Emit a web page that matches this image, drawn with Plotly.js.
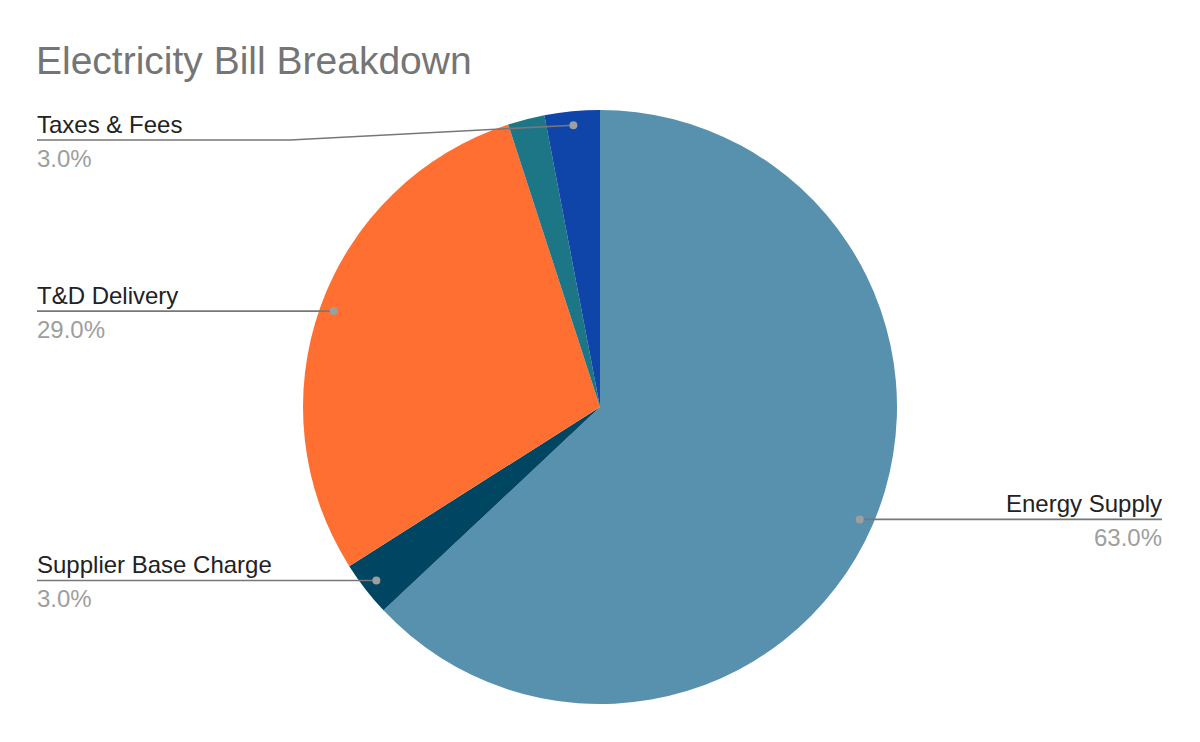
<!DOCTYPE html>
<html>
<head>
<meta charset="utf-8">
<script src="https://cdn.plot.ly/plotly-3.0.1.min.js"></script>
<style>html,body{margin:0;padding:0;background:#fff;}#chart{width:1200px;height:742px;}</style>
</head>
<body>
<div id="chart"></div>
<script>
// ---- data ----
const sliceLabels = ["Energy Supply", "Supplier Base Charge", "T&D Delivery", "Other", "Taxes & Fees"];
const sliceValues = [63, 3, 29, 2, 3];
const sliceColors = ["#5891AD", "#004561", "#FF6F31", "#1C7685", "#0F45A8"];
const showOutsideLabel = [true, true, true, false, true];
const chartTitle = "Electricity Bill Breakdown";

// ---- layout constants (pixels) ----
const W = 1200, H = 742;
const CX = 600, CY = 407, R = 297;
const LEFT_X = 37, RIGHT_X = 1162;
const DOT_FRAC = 0.953;
const MIN_LINE_Y = 140;
const FONT = "Arial";

const px = x => x / W;
const py = y => 1 - y / H;

const total = sliceValues.reduce((a, b) => a + b, 0);
const shapes = [];
const annotations = [];
let cum = 0;
sliceValues.forEach((v, i) => {
  const mid = (cum + v / 2) / total * 2 * Math.PI;
  cum += v;
  if (!showOutsideLabel[i]) return;
  const dotX = CX + Math.sin(mid) * R * DOT_FRAC;
  const dotY = CY - Math.cos(mid) * R * DOT_FRAC;
  const right = dotX > CX;
  const lineY = Math.max(dotY, MIN_LINE_Y);
  let path;
  if (right) {
    path = `M ${px(dotX)},${py(dotY)} L ${px(RIGHT_X)},${py(lineY)}`;
  } else if (Math.abs(lineY - dotY) < 0.5) {
    path = `M ${px(LEFT_X)},${py(lineY)} L ${px(dotX)},${py(dotY)}`;
  } else {
    const bendX = CX - R - 13;
    path = `M ${px(LEFT_X)},${py(lineY)} L ${px(bendX)},${py(lineY)} L ${px(dotX)},${py(dotY)}`;
  }
  shapes.push({type: "path", xref: "paper", yref: "paper", path: path,
    line: {color: "#777777", width: 1.6}});
  shapes.push({type: "circle", xref: "paper", yref: "paper",
    x0: px(dotX - 4), x1: px(dotX + 4), y0: py(dotY + 4), y1: py(dotY - 4),
    fillcolor: "#9E9E9E", line: {width: 0}});
  const ax = right ? px(RIGHT_X) : px(LEFT_X);
  const anchor = right ? "right" : "left";
  const shift = right ? 2 : -2;
  annotations.push({xref: "paper", yref: "paper", x: ax, y: py(lineY - 16),
    xanchor: anchor, yanchor: "middle", xshift: shift, showarrow: false, text: sliceLabels[i],
    font: {family: FONT, size: 24, color: "#222222"}});
  annotations.push({xref: "paper", yref: "paper", x: ax, y: py(lineY + 18),
    xanchor: anchor, yanchor: "middle", xshift: shift, showarrow: false,
    text: (v / total * 100).toFixed(1) + "%",
    font: {family: FONT, size: 24, color: "#9E9E9E"}});
});

const trace = {
  type: "pie",
  labels: sliceLabels,
  values: sliceValues,
  sort: false,
  direction: "clockwise",
  rotation: 0,
  textinfo: "none",
  marker: {colors: sliceColors, line: {width: 0}},
  domain: {x: [px(CX - R), px(CX + R)], y: [py(CY + R), py(CY - R)]},
  automargin: false,
  hoverinfo: "label+percent"
};

const layout = {
  width: W, height: H,
  margin: {l: 0, r: 0, t: 0, b: 0},
  paper_bgcolor: "#ffffff",
  showlegend: false,
  title: {text: chartTitle, x: px(LEFT_X - 1), xref: "paper", xanchor: "left",
    y: py(60), yref: "paper", yanchor: "middle",
    font: {family: FONT, size: 39, color: "#757575"}},
  shapes: shapes,
  annotations: annotations
};

Plotly.newPlot("chart", [trace], layout, {displayModeBar: false, staticPlot: true});
</script>
</body>
</html>
